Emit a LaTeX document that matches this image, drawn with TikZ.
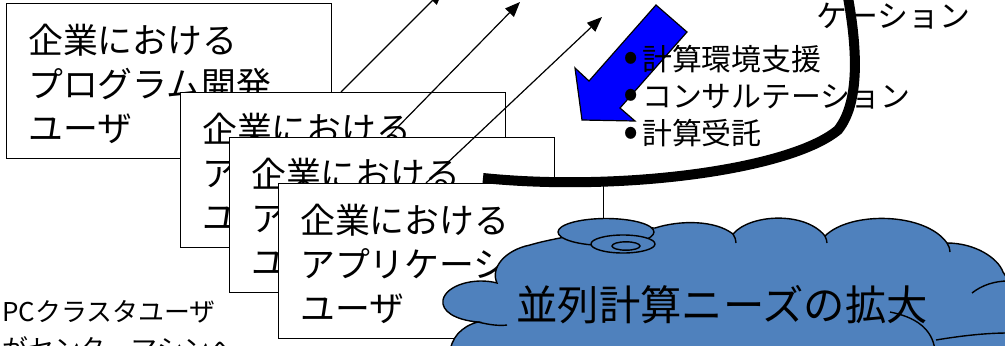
\documentclass[tikz,border=0pt]{standalone}
\usepackage{fontspec}
\usepackage{graphicx}
\setmainfont{Noto Sans CJK JP}
\usetikzlibrary{arrows.meta}
\definecolor{cloudblue}{HTML}{4F81BD}
\definecolor{arrowblue}{HTML}{0000FF}
\newcommand{\bigbul}{\makebox[19bp][l]{\raisebox{-1.5bp}{\scalebox{1.5}{•}}}}
\begin{document}
\begin{tikzpicture}[x=1bp,y=-1bp,
  userbox/.style={draw=black, line width=1.3bp, fill=white, minimum width=325bp, minimum height=155bp, inner sep=0pt, anchor=north west},
  boxtext/.style={anchor=west, align=left, inner sep=0pt, font=\fontsize{35}{44}\selectfont},
  thinarrow/.style={draw=black, line width=1.2bp, -{Triangle[length=15bp,width=12bp]}},
  outl/.style={draw=black, line width=1.4bp},
]
\useasboundingbox (0,0) rectangle (1005,345);
\clip (0,0) rectangle (1005,345);

% user boxes
\node[userbox] (b1) at (6,3) {};
\node[boxtext] (t1) at ([xshift=22bp,yshift=-3bp]b1.west) {企業における\\プログラム開発\\ユーザ};
\node[userbox] (b2) at (180,92) {};
\node[boxtext] (t2) at ([xshift=22bp,yshift=-3bp]b2.west) {企業における\\アプリケーション\\ユーザ};
\node[userbox] (b3) at (229,137) {};
\node[boxtext] (t3) at ([xshift=22bp,yshift=-3bp]b3.west) {企業における\\アプリケーション\\ユーザ};
\node[userbox] (b4) at (278,183) {};
\node[boxtext] (t4) at ([xshift=22bp,yshift=-3bp]b4.west) {企業における\\アプリケーション\\ユーザ};

% thin arrows
\coordinate (a1e) at (443,-10);
\coordinate (a2e) at (520,2);
\coordinate (a3e) at (602,17);
\draw[thinarrow] ([xshift=161bp]b2.north west) -- (a1e);
\draw[thinarrow] ([xshift=159bp]b3.north west) -- (a2e);
\draw[thinarrow] ([xshift=148bp]b4.north west) -- (a3e);

% blue block arrow
\draw[fill=arrowblue, line width=1.2bp, line join=miter] (656,5) -- (687,32) -- (620,108) -- (635,121) -- (582,120) -- (575,68) -- (589,81) -- cycle;

% bullet list
\node[anchor=west, align=left, inner sep=0pt, font=\fontsize{30}{37.5}\selectfont] (bul) at (623,96)
  {\bigbul 計算環境支援\\\bigbul コンサルテーション\\\bigbul 計算受託};

% top right text
\node[anchor=west, inner sep=0pt, font=\fontsize{31}{31}\selectfont] (kt) at (816,16) {ケーション};

% thick curve
\draw[line width=10bp] (483,178) .. controls (620,192) and (790,170) .. (838,130) .. controls (862,100) and (856,40) .. (847,-8);

% cloud
\path[outl, fill=cloudblue]
 (450,355) .. controls (450,338) and (462,326) .. (478,322)
 .. controls (455,320) and (441,311) .. (443,300)
 .. controls (446,285) and (475,277) .. (497,283)
 .. controls (490,268) and (505,250) .. (530,245)
 .. controls (540,242) and (550,240) .. (560,238)
 .. controls (600,229) and (630,227) .. (655,228)
 .. controls (680,220) and (715,220) .. (733,234)
 .. controls (750,214) and (805,211) .. (825,236)
 .. controls (850,211) and (925,212) .. (947,243)
 .. controls (975,243) and (998,258) .. (1003,272)
 -- (1015,290) -- (1015,355) -- cycle;
\draw[outl] (478,322) .. controls (490,325) and (500,326) .. (507,325);
\draw[outl] (733,234) .. controls (735,237) and (736,240) .. (736,243);
\draw[outl] (825,236) .. controls (826,238) and (827,241) .. (827,243);
\draw[outl] (947,243) .. controls (949,246) and (950,249) .. (950,252);
\draw[outl] (972,293) .. controls (982,285) and (995,281) .. (1008,281);
\draw[outl] (890,312) .. controls (915,317) and (932,328) .. (935,350);
\draw[outl] (936,340) .. controls (960,336) and (985,333) .. (1008,333);

% callout ellipses
\draw[outl, fill=cloudblue] (606,232) ellipse [x radius=48bp, y radius=13.5bp];
\draw[outl, fill=cloudblue] (623,244) ellipse [x radius=32bp, y radius=9bp];
\draw[outl, fill=cloudblue] (626,246) ellipse [x radius=14bp, y radius=4.2bp];

\node[inner sep=0pt, font=\fontsize{41.5}{41.5}\selectfont] (ct) at (722,305) {並列計算ニーズの拡大};

% bottom-left text
\node[anchor=west, align=left, inner sep=0pt, font=\fontsize{26}{37}\selectfont] (pc) at (2,330) {PCクラスタユーザ\\がセンターマシンへ};
\end{tikzpicture}
\end{document}
